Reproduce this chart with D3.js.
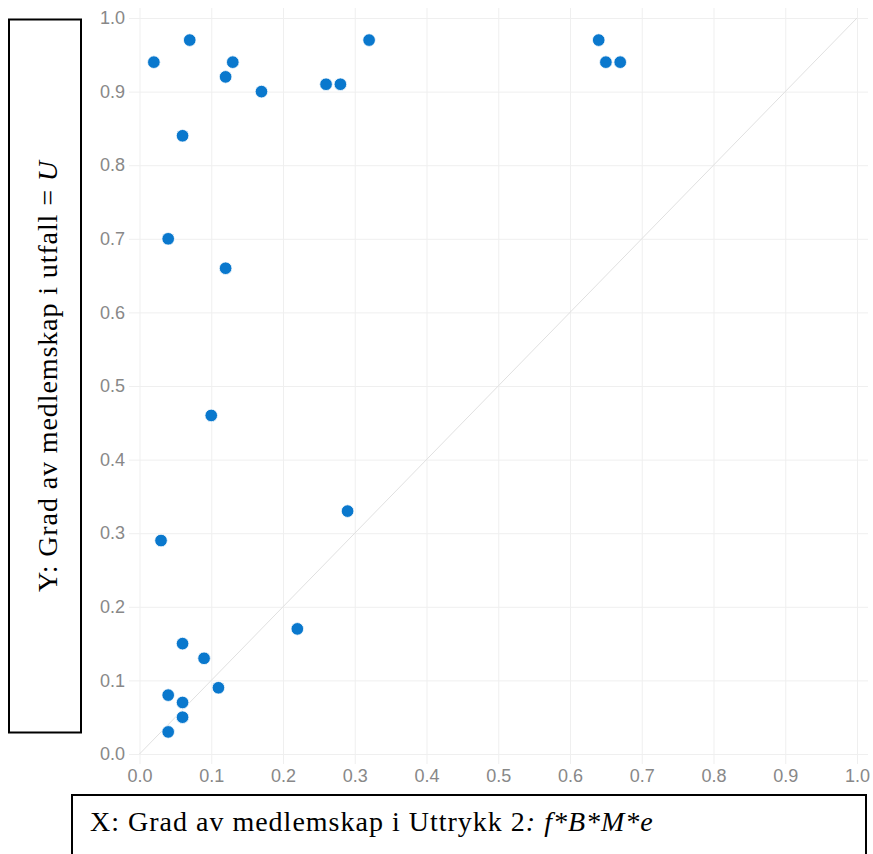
<!DOCTYPE html>
<html>
  <head>
    <script src="https://d3js.org/d3.v7.min.js"></script>
    <style>
      body { margin: 0; background: #fff; }
    </style>
  </head>
  <body>
    <svg id="chart" width="873" height="854"></svg>

    <script>
      // degree of membership per case
      const xValues = [0.02, 0.07, 0.12, 0.13, 0.17, 0.26, 0.28, 0.32, 0.64, 0.65, 0.67,
                       0.06, 0.04, 0.12, 0.10, 0.29, 0.03, 0.22, 0.06, 0.09, 0.04, 0.11, 0.06, 0.06, 0.04]
      const yValues = [0.94, 0.97, 0.92, 0.94, 0.90, 0.91, 0.91, 0.97, 0.97, 0.94, 0.94,
                       0.84, 0.70, 0.66, 0.46, 0.33, 0.29, 0.17, 0.15, 0.13, 0.08, 0.09, 0.07, 0.05, 0.03]
      const tickValues = [0, 0.1, 0.2, 0.3, 0.4, 0.5, 0.6, 0.7, 0.8, 0.9, 1.0]

      var svg = d3.select("#chart")

      var x = d3.scaleLinear().domain([0, 1]).range([139.5, 857])
      var y = d3.scaleLinear().domain([0, 1]).range([754, 18])

      // gridlines
      svg.append("g")
        .attr("transform", "translate(0,764)")
        .call(d3.axisBottom(x).tickValues(tickValues).tickSize(-756).tickFormat(""))
        .call(g => g.select(".domain").remove())
        .call(g => g.selectAll("line").attr("stroke", "#efefef"))

      svg.append("g")
        .attr("transform", "translate(129,0)")
        .call(d3.axisLeft(y).tickValues(tickValues).tickSize(-739).tickFormat(""))
        .call(g => g.select(".domain").remove())
        .call(g => g.selectAll("line").attr("stroke", "#efefef"))

      // tick labels
      svg.append("g")
        .attr("transform", "translate(127,0)")
        .call(d3.axisLeft(y).tickValues(tickValues).tickSize(0).tickPadding(2).tickFormat(d3.format(".1f")))
        .call(g => g.select(".domain").remove())
        .call(g => g.selectAll("text")
          .attr("fill", "#888")
          .style("font-family", "'Liberation Sans', Arial, sans-serif")
          .style("font-size", "18px"))

      svg.append("g")
        .attr("transform", "translate(0,767)")
        .call(d3.axisBottom(x).tickValues(tickValues).tickSize(0).tickPadding(2).tickFormat(d3.format(".1f")))
        .call(g => g.select(".domain").remove())
        .call(g => g.selectAll("text")
          .attr("fill", "#888")
          .style("font-family", "'Liberation Sans', Arial, sans-serif")
          .style("font-size", "18px"))

      // diagonal x = y
      svg.append("line")
        .attr("x1", x(0)).attr("y1", y(0))
        .attr("x2", x(1)).attr("y2", y(1))
        .attr("stroke", "#e0e0e0")
        .attr("stroke-width", 1)

      // points
      svg.selectAll("circle.pt")
        .data(d3.zip(xValues, yValues))
        .enter()
        .append("circle")
        .attr("class", "pt")
        .attr("cx", d => x(d[0]))
        .attr("cy", d => y(d[1]))
        .attr("r", 6.3)
        .attr("fill", "#0a78cd")
        .attr("stroke", "#fff")
        .attr("stroke-width", 0.8)

      // y label box
      svg.append("rect")
        .attr("x", 9).attr("y", 19.5)
        .attr("width", 72).attr("height", 713)
        .attr("fill", "none").attr("stroke", "#000").attr("stroke-width", 2)

      var yl = svg.append("text")
        .attr("transform", "translate(57,376) rotate(-90)")
        .attr("text-anchor", "middle")
        .style("font-family", "'Liberation Serif', 'Times New Roman', serif")
        .style("font-size", "28px")
        .style("letter-spacing", "0.9px")
      yl.append("tspan").text("Y: Grad av medlemskap i utfall = ")
      yl.append("tspan").style("font-style", "italic").text("U")

      // x label box
      svg.append("rect")
        .attr("x", 72).attr("y", 795)
        .attr("width", 794).attr("height", 80)
        .attr("fill", "none").attr("stroke", "#000").attr("stroke-width", 2)

      var xl = svg.append("text")
        .attr("x", 90).attr("y", 831)
        .style("font-family", "'Liberation Serif', 'Times New Roman', serif")
        .style("font-size", "28px")
        .style("letter-spacing", "1px")
      xl.append("tspan").text("X: Grad av medlemskap i Uttrykk 2")
      xl.append("tspan").style("font-style", "italic").text(": f*B*M*e")
    </script>
  </body>
</html>
